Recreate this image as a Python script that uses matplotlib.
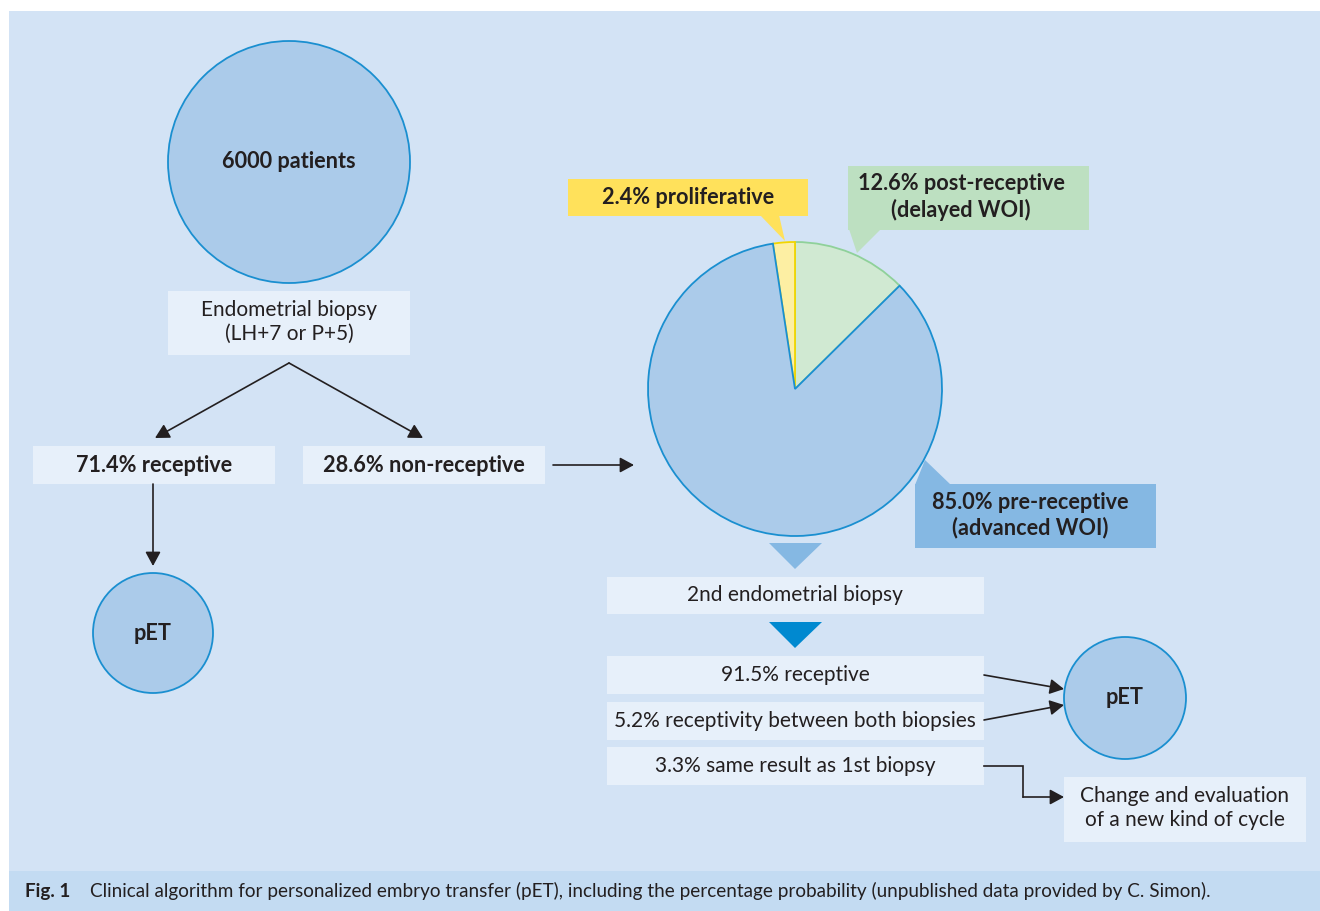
import matplotlib
matplotlib.use("Agg")
import matplotlib.pyplot as plt
from matplotlib.patches import Rectangle, Circle, Polygon

plt.rcParams['font.family'] = ['Lato', 'DejaVu Sans']

# ---------------- data ----------------
start_label = "6000 patients"
biopsy_label = "Endometrial biopsy\n(LH+7 or P+5)"
first_split_labels = ["71.4% receptive", "28.6% non-receptive"]
pet_label = "pET"
pie_values = [12.6, 85.0, 2.4]
pie_labels = ["12.6% post-receptive\n(delayed WOI)",
              "85.0% pre-receptive\n(advanced WOI)",
              "2.4% proliferative"]
second_biopsy_label = "2nd endometrial biopsy"
second_outcomes = ["91.5% receptive",
                   "5.2% receptivity between both biopsies",
                   "3.3% same result as 1st biopsy"]
change_label = "Change and evaluation\nof a new kind of cycle"
caption_bold = "Fig. 1"
caption_text = ("Clinical algorithm for personalized embryo transfer (pET), including the "
                "percentage probability (unpublished data provided by C. Simon).")

# ---------------- styles ----------------
BG = '#d3e3f5'
BOX = '#e7f0fa'
CIRC = '#abcbea'
EDGE = '#1a8fd0'
TXT = '#231f20'
CAP = '#c3dbf2'
pie_colors = ['#d0e9d2', '#abcbea', '#fdefa3']
pie_edges = ['#8fd19a', EDGE, '#f2d600']
label_fill = ['#bde0c1', '#85b8e3', '#ffe15b']
FS = 15
FSB = 15.6

fig = plt.figure(figsize=(13.2, 9.11), dpi=100)
ax = fig.add_axes([0, 0, 1, 1])


def box(x0, y0, x1, y1, fc=BOX):
    ax.add_patch(Rectangle((x0, y0), x1 - x0, y1 - y0, fc=fc, ec='none', zorder=2))


def text(x, y, s, bold=False, size=FS, ha='center', **kw):
    ax.text(x, y, s, ha=ha, va='center', fontsize=size, color=TXT,
            fontweight='bold' if bold else 'normal', zorder=5, linespacing=1.22, **kw)


def arrow(x0, y0, x1, y1):
    ax.annotate('', xy=(x1, y1), xytext=(x0, y0),
                arrowprops=dict(arrowstyle='-|>,head_length=8.5,head_width=4.6',
                                mutation_scale=1, color=TXT, lw=1.2,
                                shrinkA=0, shrinkB=0), zorder=4)


# background panels
ax.add_patch(Rectangle((9, 11), 1311, 860, fc=BG, ec='none', zorder=0))
ax.add_patch(Rectangle((9, 871), 1311, 40, fc=CAP, ec='none', zorder=0))

# start circle
ax.add_patch(Circle((289, 162), 121, fc=CIRC, ec=EDGE, lw=1.3, zorder=2))
text(289, 162, start_label, bold=True, size=FSB)

# biopsy box
box(168, 291, 410, 355)
text(289, 322, biopsy_label)

# split arrows
arrow(289, 363, 155, 438)
arrow(289, 363, 423, 438)

box(33, 446, 275, 484)
text(154, 465, first_split_labels[0], bold=True, size=FSB)
box(303, 446, 545, 484)
text(424, 465, first_split_labels[1], bold=True, size=FSB)

arrow(553, 465, 634, 465)
arrow(153, 484, 153, 566)

ax.add_patch(Circle((153, 633), 60, fc=CIRC, ec=EDGE, lw=1.3, zorder=2))
text(153, 633, pet_label, bold=True, size=FSB)

# pie (screen clockwise from top: green, blue, yellow)
wedges, _ = ax.pie(pie_values, colors=pie_colors, center=(795, 389), radius=147,
                   startangle=-90, counterclock=True,
                   wedgeprops=dict(lw=1.3, zorder=3))
for w, ec in zip(wedges, pie_edges):
    w.set_edgecolor(ec)
    w.set_zorder(3)
wedges[1].set_zorder(3.5)

# pie callouts
box(848, 166, 1089, 230, fc=label_fill[0])
ax.add_patch(Polygon([(849, 229), (881, 229), (857, 253)], closed=True,
                     fc=label_fill[0], ec='none', zorder=2))
text(961, 197, pie_labels[0], bold=True, size=FSB)

box(915, 484, 1156, 548, fc=label_fill[1])
ax.add_patch(Polygon([(925, 460), (951, 485), (915, 485)], closed=True,
                     fc=label_fill[1], ec='none', zorder=2))
text(1030, 515, pie_labels[1], bold=True, size=FSB)

box(568, 179, 808, 216, fc=label_fill[2])
ax.add_patch(Polygon([(760, 215), (779, 215), (785, 241)], closed=True,
                     fc=label_fill[2], ec='none', zorder=2))
text(688, 197, pie_labels[2], bold=True, size=FSB)

# triangles + second biopsy
ax.add_patch(Polygon([(769, 543), (822, 543), (795, 569)], closed=True,
                     fc='#85b8e3', ec='none', zorder=2))
box(607, 577, 984, 614)
text(795, 595, second_biopsy_label)
ax.add_patch(Polygon([(769, 622), (822, 622), (795, 648)], closed=True,
                     fc='#0089d0', ec='none', zorder=2))

rows = [(656, 694), (702, 740), (747, 785)]
for (y0, y1), s in zip(rows, second_outcomes):
    box(607, y0, 984, y1)
    text(795, (y0 + y1) / 2, s)

ax.add_patch(Circle((1125, 698), 61, fc=CIRC, ec=EDGE, lw=1.3, zorder=2))
text(1125, 698, pet_label, bold=True, size=FSB)

arrow(984, 675, 1064, 689)
arrow(984, 720, 1064, 705)

ax.plot([984, 1023, 1023], [766, 766, 797], color=TXT, lw=1.2, zorder=4,
        solid_joinstyle='miter')
arrow(1023, 797, 1064, 797)

box(1064, 777, 1306, 842)
text(1185, 808, change_label)

# caption
ax.text(25, 891, caption_bold, ha='left', va='center', fontsize=13.6,
        fontweight='bold', color=TXT)
ax.text(90, 891, caption_text, ha='left', va='center', fontsize=13.6, color=TXT)

ax.set_xlim(0, 1320)
ax.set_ylim(911, 0)
ax.set_aspect('auto')
ax.axis('off')
fig.savefig('out.png', dpi=100, facecolor='white')
